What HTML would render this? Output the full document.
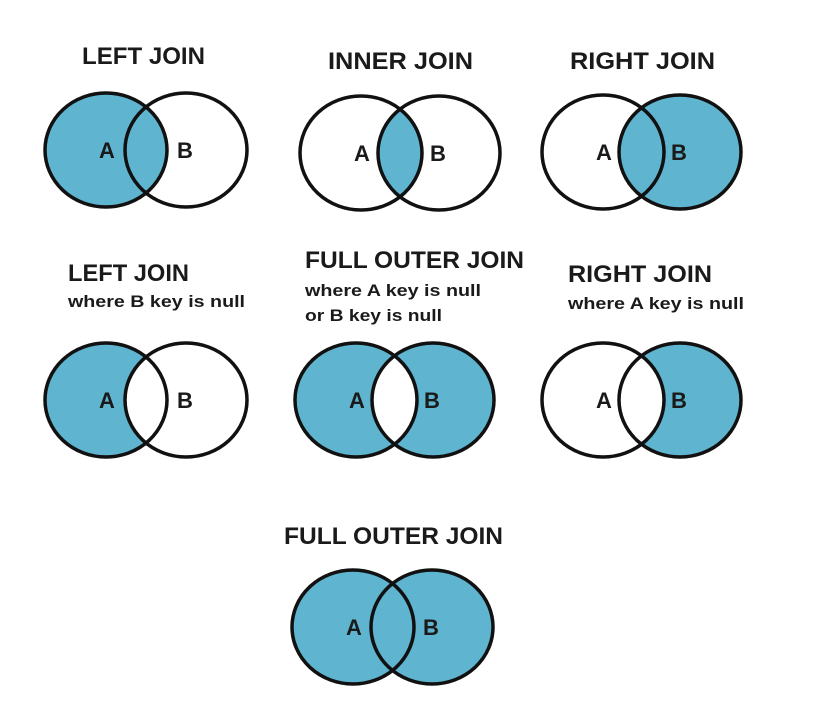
<!DOCTYPE html>
<html><head><meta charset="utf-8"><style>
html,body{margin:0;padding:0;background:#fff;}
svg{display:block;}
text{font-family:"Liberation Sans",sans-serif;font-weight:bold;fill:#1a1a1a;}
</style></head><body>
<svg id="c" width="813" height="721" viewBox="0 0 813 721" xmlns="http://www.w3.org/2000/svg"></svg>
<script>
const joinNames = ["left-join","inner-join","right-join","left-join-b-null","full-outer-join-null","right-join-a-null","full-outer-join"];
const modes = ["left","inner","right","leftonly","xor","rightonly","full"];
const centersA = [[106,150],[361,153],[603,152],[106,400],[356,400],[603,400],[353,627]];
const centersB = [[186,150],[439,153],[680,152],[186,400],[433,400],[680,400],[432,627]];
const titles = [
 [["LEFT JOIN",82,64,123,24]],
 [["INNER JOIN",328,69,145,24]],
 [["RIGHT JOIN",570,69,145,24]],
 [["LEFT JOIN",68,281,121,24],["where B key is null",68,307,177,17]],
 [["FULL OUTER JOIN",305,268,219,24],["where A key is null",305,296,176,17],["or B key is null",305,321,137,17]],
 [["RIGHT JOIN",568,282,144,24],["where A key is null",568,309,176,17]],
 [["FULL OUTER JOIN",284,544,219,24]]
];
const RX=61, RY=57, FILL="#5fb5d0";
const svg=document.getElementById('c');
const NS="http://www.w3.org/2000/svg";
function mk(t,a,p){const e=document.createElementNS(NS,t);for(const k in a)e.setAttribute(k,a[k]);(p||svg).appendChild(e);return e;}
const defs=mk('defs',{});
modes.forEach((m,i)=>{
  const g=mk('g',{});
  
  
  const [ax,ay]=centersA[i],[bx,by]=centersB[i];
  const cp=mk('clipPath',{id:'cA'+i},defs);
  mk('ellipse',{cx:ax,cy:ay,rx:RX,ry:RY},cp);
  const fa=()=>mk('ellipse',{cx:ax,cy:ay,rx:RX,ry:RY,fill:FILL},g);
  const fb=()=>mk('ellipse',{cx:bx,cy:by,rx:RX,ry:RY,fill:FILL},g);
  const inter=(c)=>mk('ellipse',{cx:bx,cy:by,rx:RX,ry:RY,fill:c,'clip-path':'url(#cA'+i+')'},g);
  if(m==='left')fa();
  else if(m==='right')fb();
  else if(m==='full'){fa();fb();}
  else if(m==='inner')inter(FILL);
  else if(m==='leftonly'){fa();inter('#fff');}
  else if(m==='rightonly'){fb();inter('#fff');}
  else if(m==='xor'){fa();fb();inter('#fff');}
  const ea=mk('ellipse',{cx:ax,cy:ay,rx:RX,ry:RY,fill:'none',stroke:'#111','stroke-width':3.5},g);
  
  
  const eb=mk('ellipse',{cx:bx,cy:by,rx:RX,ry:RY,fill:'none',stroke:'#111','stroke-width':3.5},g);
  
  
  const la=mk('text',{x:ax+1,y:ay+8,'text-anchor':'middle','font-size':22},g);la.textContent='A';
  
  
  const lb=mk('text',{x:bx-1,y:by+8,'text-anchor':'middle','font-size':22},g);lb.textContent='B';
  
  
  titles[i].forEach((t,j)=>{
    const tx=mk('text',{x:t[1],y:t[2],'font-size':t[4],textLength:t[3],lengthAdjust:'spacingAndGlyphs'},g);
    tx.textContent=t[0];
    
    
  });
});
</script>
</body></html>
